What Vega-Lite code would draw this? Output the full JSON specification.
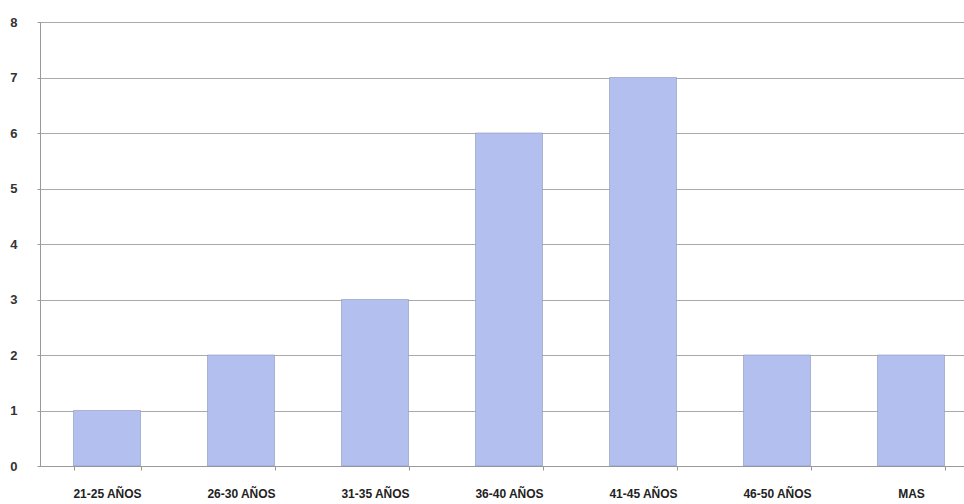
{
  "$schema": "https://vega.github.io/schema/vega-lite/v6.json",
  "autosize": {"type": "none"},
  "padding": {"left": 40, "top": 22, "right": 0, "bottom": 38},
  "width": 938,
  "height": 444,
  "background": "white",
  "data": {"values": [
    {"edad": "21-25 AÑOS", "n": 1},
    {"edad": "26-30 AÑOS", "n": 2},
    {"edad": "31-35 AÑOS", "n": 3},
    {"edad": "36-40 AÑOS", "n": 6},
    {"edad": "41-45 AÑOS", "n": 7},
    {"edad": "46-50 AÑOS", "n": 2},
    {"edad": "MAS", "n": 2}
  ]},
  "mark": {"type": "bar", "color": "#b3bfee", "stroke": "#8c96b8", "strokeWidth": 0.6},
  "encoding": {
    "x": {"field": "edad", "type": "nominal", "sort": null, "title": null,
      "scale": {"paddingInner": 0.5, "paddingOuter": 0.25},
      "axis": {"labelAngle": 0, "labelFont": "Liberation Sans", "labelFontSize": 12, "labelFontWeight": "bold", "labelColor": "#222", "labelPadding": 18, "domainColor": "#999", "tickColor": "#999", "tickBand": "extent", "ticks": true, "tickSize": 4}},
    "y": {"field": "n", "type": "quantitative", "title": null,
      "scale": {"domain": [0, 8]},
      "axis": {"values": [0,1,2,3,4,5,6,7,8], "labelFont": "Liberation Sans", "labelFontSize": 13, "labelFontWeight": "bold", "labelColor": "#333", "labelPadding": 20, "gridColor": "#aaa", "domainColor": "#999", "tickColor": "#999", "tickSize": 3}}
  },
  "config": {"view": {"stroke": "#ccc"}}
}
